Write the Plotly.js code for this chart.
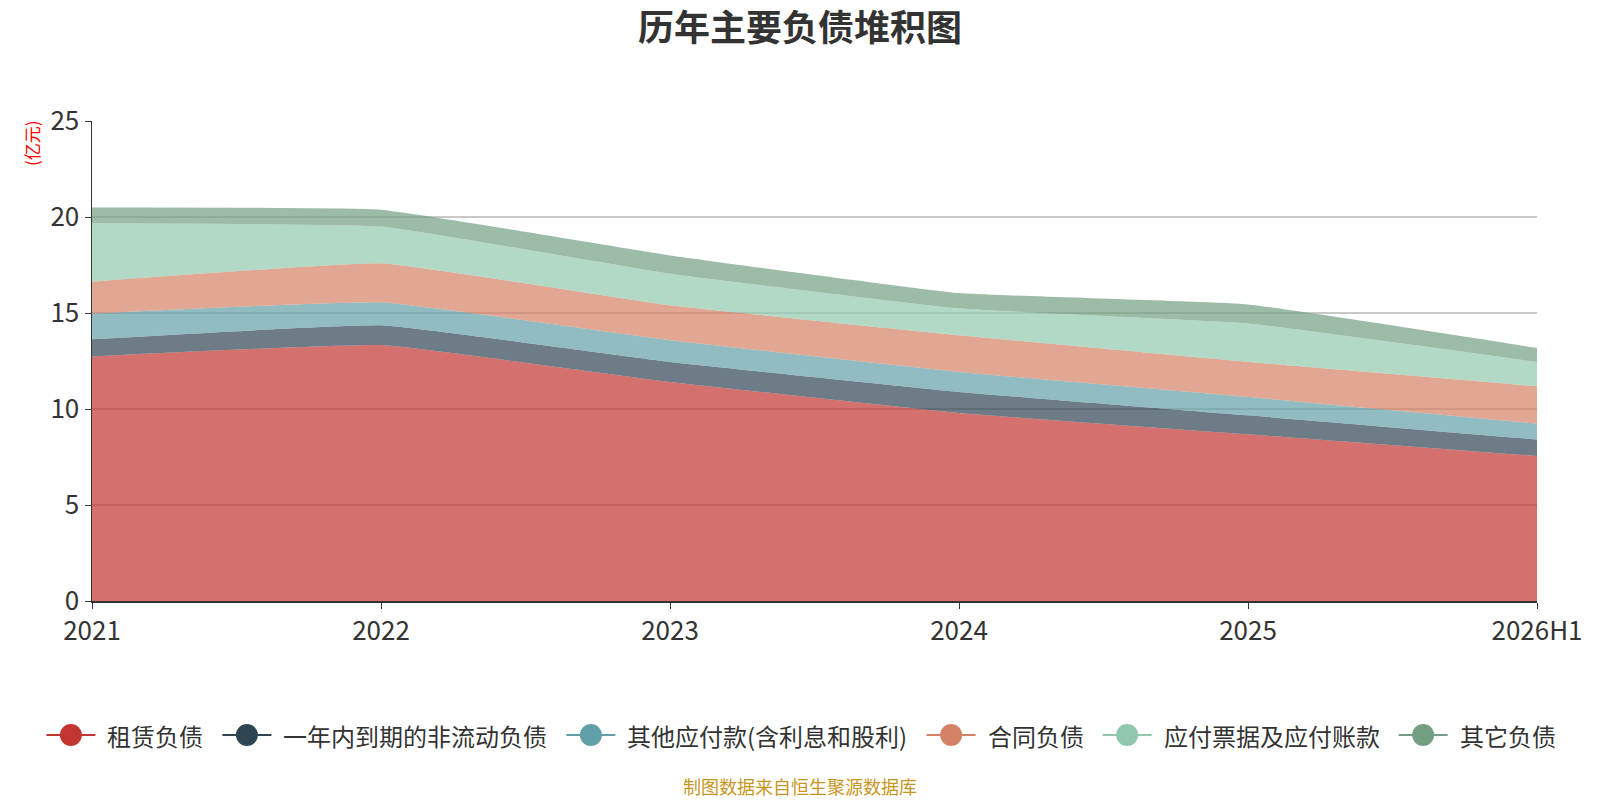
<!DOCTYPE html>
<html>
<head>
<meta charset="utf-8">
<script src="https://cdn.plot.ly/plotly-3.0.1.min.js"></script>
<style>
  html, body { margin: 0; padding: 0; background: #fff; }
  #chart { width: 1600px; height: 800px; }
</style>
</head>
<body>
<div id="chart"></div>
<script>
// 年份
const years = ['2021', '2022', '2023', '2024', '2025', '2026H1'];

// 各项负债 (亿元)
const zulin = [12.74, 13.33, 11.41, 9.79, 8.68, 7.55];
const yinian = [0.89, 1.03, 1.04, 1.10, 0.99, 0.86];
const qitaYingfu = [1.34, 1.20, 1.13, 1.04, 0.96, 0.83];
const hetong = [1.66, 2.03, 1.82, 1.91, 1.82, 1.94];
const yingfuPiaoju = [3.04, 1.91, 1.65, 1.39, 2.00, 1.27];
const qitaFuzhai = [0.82, 0.88, 0.95, 0.81, 0.99, 0.73];

const seriesNames = ['租赁负债', '一年内到期的非流动负债', '其他应付款(含利息和股利)', '合同负债', '应付票据及应付账款', '其它负债'];
const seriesData = [zulin, yinian, qitaYingfu, hetong, yingfuPiaoju, qitaFuzhai];
const colors = ['#c23531', '#2f4554', '#61a0a8', '#d48265', '#91c7ae', '#749f83'];

const W = 1600, H = 800;
const M = { l: 92, r: 63, t: 121, b: 199 };
const PW = W - M.l - M.r, PH = H - M.t - M.b;
const font = '"Noto Sans CJK SC", "Noto Sans", sans-serif';
const legendFontSize = 24;

// 像素 -> paper 坐标
const px = x => (x - M.l) / PW;
const py = y => (H - M.b - y) / PH;

function hexToRgba(hex, a) {
    const n = parseInt(hex.slice(1), 16);
    return 'rgba(' + (n >> 16) + ',' + ((n >> 8) & 255) + ',' + (n & 255) + ',' + a + ')';
}

// 图例: 线 + 圆点 + 文字, 按文字宽度排开并居中
function buildLegend() {
    const ctx = document.createElement('canvas').getContext('2d');
    ctx.font = legendFontSize + 'px ' + font;
    const lineLen = 49, textGap = 10, itemGap = 21, cy = 735;
    const widths = seriesNames.map(n => ctx.measureText(n).width);
    const total = widths.reduce((a, b) => a + b, 0) + seriesNames.length * (lineLen + textGap) + (seriesNames.length - 1) * itemGap;
    let x = W / 2 - total / 2;
    const shapes = [], annotations = [];
    seriesNames.forEach((name, i) => {
        shapes.push({
            type: 'line', xref: 'paper', yref: 'paper',
            x0: px(x), x1: px(x + lineLen), y0: py(cy), y1: py(cy),
            line: { color: colors[i], width: 2 }
        });
        shapes.push({
            type: 'circle', xref: 'paper', yref: 'paper',
            xsizemode: 'pixel', ysizemode: 'pixel',
            xanchor: px(x + lineLen / 2), yanchor: py(cy),
            x0: -11, x1: 11, y0: -11, y1: 11,
            fillcolor: colors[i], line: { width: 0 }
        });
        annotations.push({
            text: name, xref: 'paper', yref: 'paper',
            x: px(x + lineLen + textGap), y: py(cy),
            xanchor: 'left', yanchor: 'middle', showarrow: false,
            font: { family: font, size: legendFontSize, color: '#333' }
        });
        x += lineLen + textGap + widths[i] + itemGap;
    });
    return { shapes, annotations };
}

function draw() {
    // 堆积面积
    const traces = seriesData.map((ys, i) => ({
        x: years,
        y: ys,
        type: 'scatter',
        mode: 'lines',
        stackgroup: 'one',
        name: seriesNames[i],
        line: { width: 0, shape: 'spline', smoothing: 0.3 },
        fillcolor: hexToRgba(colors[i], 0.7),
        showlegend: false
    }));

    const legend = buildLegend();

    const layout = {
        width: W,
        height: H,
        paper_bgcolor: '#fff',
        plot_bgcolor: '#fff',
        font: { family: font, color: '#333' },
        margin: M,
        showlegend: false,
        title: {
            text: '<b>历年主要负债堆积图</b>',
            font: { family: font, size: 36, color: '#333' },
            x: 0.5, xanchor: 'center',
            y: 0.965, yanchor: 'middle'
        },
        xaxis: {
            type: 'category',
            range: [0, years.length - 1],
            showgrid: false,
            showline: true,
            linecolor: '#333',
            linewidth: 1.5,
            ticks: 'outside',
            ticklen: 6,
            tickcolor: '#333',
            tickfont: { size: 26, color: '#333' },
            zeroline: false,
            fixedrange: true
        },
        yaxis: {
            range: [0, 25],
            dtick: 5,
            showgrid: true,
            gridcolor: '#c8c8c8',
            gridwidth: 1.5,
            showline: true,
            linecolor: '#333',
            linewidth: 1.5,
            ticks: 'outside',
            ticklen: 6,
            tickcolor: '#333',
            tickfont: { size: 26, color: '#333' },
            zeroline: false,
            fixedrange: true
        },
        shapes: legend.shapes,
        annotations: [
            {
                text: '(亿元)',
                xref: 'paper', yref: 'paper',
                x: px(32), y: py(143),
                xanchor: 'center', yanchor: 'middle',
                textangle: -90,
                showarrow: false,
                font: { family: font, size: 17, color: '#ff0000' }
            },
            {
                text: '制图数据来自恒生聚源数据库',
                xref: 'paper', yref: 'paper',
                x: px(800), y: py(786),
                xanchor: 'center', yanchor: 'middle',
                showarrow: false,
                font: { family: font, size: 18, color: '#c8961e' }
            }
        ].concat(legend.annotations),
        hovermode: false
    };

    Plotly.newPlot('chart', traces, layout, { displayModeBar: false, staticPlot: true });
}

if (document.fonts && document.fonts.load) {
    document.fonts.load(legendFontSize + 'px "Noto Sans CJK SC"', '租赁负债').then(draw, draw);
} else {
    draw();
}
</script>
</body>
</html>
